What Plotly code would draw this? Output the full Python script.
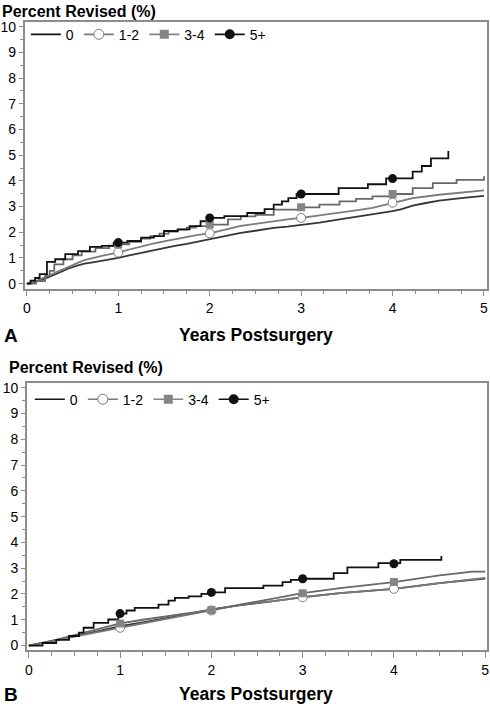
import plotly.graph_objects as go

# ---------------- Data (Panel A) ----------------
years_ticks = [0, 1, 2, 3, 4, 5]
pct_ticks = list(range(0, 11))
marker_years = [1, 2, 3, 4]
groups = ["0", "1-2", "3-4", "5+"]

a0_x = [0, 0.12, 0.24, 0.35, 0.45, 0.55, 0.63, 0.72, 0.82, 0.91, 1.0, 1.12, 1.25, 1.37, 1.5, 1.62, 1.75,
        1.87, 2.0, 2.17, 2.34, 2.5, 2.7, 2.85, 3.0, 3.2, 3.42, 3.6, 3.78, 4.0, 4.1, 4.22, 4.35, 4.51, 4.75, 5.0]
a0_y = [0, 0.1, 0.25, 0.42, 0.58, 0.7, 0.78, 0.83, 0.88, 0.95, 1.0, 1.1, 1.2, 1.3, 1.4, 1.47, 1.55,
        1.64, 1.74, 1.86, 1.98, 2.06, 2.17, 2.22, 2.28, 2.38, 2.5, 2.6, 2.69, 2.82, 2.9, 3.04, 3.13, 3.23, 3.33, 3.42]

a12_x = [0, 0.12, 0.24, 0.35, 0.45, 0.55, 0.63, 0.72, 0.82, 0.91, 1.0, 1.12, 1.25, 1.37, 1.5, 1.62, 1.75,
         1.87, 2.0, 2.17, 2.34, 2.5, 2.7, 2.85, 3.0, 3.2, 3.42, 3.6, 3.78, 4.0, 4.22, 4.51, 4.75, 5.0]
a12_y = [0, 0.13, 0.32, 0.5, 0.66, 0.8, 0.92, 1.01, 1.08, 1.15, 1.21, 1.33, 1.45, 1.55, 1.65, 1.74, 1.83,
         1.9, 1.96, 2.1, 2.25, 2.33, 2.44, 2.5, 2.56, 2.65, 2.75, 2.85, 2.95, 3.15, 3.33, 3.46, 3.55, 3.63]

a34_x = [0, 0.1, 0.2, 0.25, 0.3, 0.4, 0.5, 0.6, 0.75, 0.9, 1.0, 1.12, 1.25, 1.35, 1.45, 1.55, 1.65, 1.75,
         1.85, 2.0, 2.2, 2.34, 2.5, 2.7, 3.0, 3.2, 3.42, 3.6, 3.78, 4.0, 4.22, 4.44, 4.7, 5.0]
a34_y = [0, 0.1, 0.3, 0.5, 0.75, 0.95, 1.1, 1.25, 1.38, 1.48, 1.53, 1.63, 1.75, 1.85, 1.95, 2.03, 2.1, 2.18,
         2.24, 2.3, 2.5, 2.62, 2.68, 2.88, 2.97, 3.08, 3.2, 3.3, 3.4, 3.49, 3.72, 3.91, 4.04, 4.18]

a5_x = [0, 0.04, 0.09, 0.14, 0.22, 0.31, 0.42, 0.56, 0.69, 0.82, 0.95, 1.1, 1.25, 1.39, 1.5, 1.65, 1.78,
        1.9, 2.0, 2.16, 2.41, 2.6, 2.7, 2.79, 2.86, 2.95, 3.41, 3.73, 3.93, 4.22, 4.32, 4.42, 4.61]
a5_y = [0, 0.12, 0.22, 0.37, 0.85, 0.95, 1.15, 1.27, 1.43, 1.47, 1.6, 1.66, 1.79, 1.85, 2.05, 2.11, 2.24,
        2.43, 2.56, 2.63, 2.75, 2.9, 3.08, 3.2, 3.33, 3.49, 3.72, 3.87, 4.1, 4.36, 4.58, 4.88, 5.16]

a12_mk = [1.21, 1.96, 2.56, 3.15]
a34_mk = [1.53, 2.3, 2.97, 3.49]
a5_mk = [1.6, 2.56, 3.49, 4.09]

# ---------------- Data (Panel B) ----------------
b0_x = [0, 0.25, 0.5, 0.75, 1.0, 1.25, 1.5, 1.75, 2.0, 2.32, 2.68, 3.0, 3.41, 3.7, 4.0, 4.5, 5.0]
b0_y = [0, 0.17, 0.36, 0.55, 0.75, 0.9, 1.05, 1.22, 1.4, 1.57, 1.72, 1.88, 2.03, 2.12, 2.2, 2.42, 2.6]

b12_x = [0, 0.25, 0.5, 0.75, 1.0, 1.25, 1.5, 1.75, 2.0, 2.32, 2.68, 3.0, 3.41, 3.7, 4.0, 4.5, 5.0]
b12_y = [0, 0.16, 0.35, 0.52, 0.69, 0.88, 1.05, 1.2, 1.36, 1.59, 1.72, 1.87, 2.03, 2.12, 2.2, 2.42, 2.62]

b34_x = [0, 0.25, 0.5, 0.75, 1.0, 1.25, 1.5, 1.75, 2.0, 2.32, 2.68, 3.0, 3.41, 3.7, 4.0, 4.5, 4.86, 5.0]
b34_y = [0, 0.18, 0.4, 0.62, 0.86, 1.0, 1.13, 1.25, 1.38, 1.59, 1.82, 2.03, 2.23, 2.33, 2.46, 2.72, 2.87, 2.87]

b5_x = [0, 0.15, 0.3, 0.44, 0.55, 0.6, 0.71, 0.87, 0.98, 1.0, 1.07, 1.16, 1.42, 1.53, 1.6, 1.75, 1.89, 2.0,
        2.15, 2.57, 2.78, 2.87, 3.0, 3.34, 3.49, 3.83, 4.07, 4.52]
b5_y = [0, 0.1, 0.22, 0.37, 0.5, 0.69, 0.88, 1.01, 1.14, 1.24, 1.36, 1.46, 1.59, 1.74, 1.85, 1.91, 2.0, 2.06,
        2.23, 2.32, 2.46, 2.55, 2.59, 2.81, 3.03, 3.2, 3.32, 3.47]

b12_mk = [0.69, 1.36, 1.87, 2.2]
b34_mk = [0.86, 1.38, 2.03, 2.46]
b5_mk = [1.24, 2.06, 2.59, 3.17]

# ---------------- Styles ----------------
FONT = "Liberation Sans, Arial, sans-serif"
C0 = "#363636"
C12 = "#7a7a7a"
C34 = "#686868"
C34M = "#858585"
C5 = "#111111"
AXC = "#8c8c8c"
W = 490
H = 706

fig = go.Figure()


def add_panel(xa, ya, leg, d0, d12, d34, d5, mk12, mk34, mk5, shapes):
    lw = 1.8
    fig.add_trace(go.Scatter(x=d0[0], y=d0[1], mode="lines", line=dict(color=C0, width=lw, shape=shapes[0]),
                             xaxis=xa, yaxis=ya, showlegend=False, hoverinfo="skip"))
    fig.add_trace(go.Scatter(x=d12[0], y=d12[1], mode="lines", line=dict(color=C12, width=lw, shape=shapes[1]),
                             xaxis=xa, yaxis=ya, showlegend=False, hoverinfo="skip"))
    fig.add_trace(go.Scatter(x=d34[0], y=d34[1], mode="lines", line=dict(color=C34, width=lw, shape=shapes[2]),
                             xaxis=xa, yaxis=ya, showlegend=False, hoverinfo="skip"))
    fig.add_trace(go.Scatter(x=d5[0], y=d5[1], mode="lines", line=dict(color=C5, width=lw, shape=shapes[3]),
                             xaxis=xa, yaxis=ya, showlegend=False, hoverinfo="skip"))
    # markers at yearly intervals
    fig.add_trace(go.Scatter(x=marker_years, y=mk12, mode="markers",
                             marker=dict(symbol="circle", size=9, color="white", line=dict(color=C12, width=1)),
                             xaxis=xa, yaxis=ya, showlegend=False))
    fig.add_trace(go.Scatter(x=marker_years, y=mk34, mode="markers",
                             marker=dict(symbol="square", size=8, color=C34M, line=dict(width=0)),
                             xaxis=xa, yaxis=ya, showlegend=False))
    fig.add_trace(go.Scatter(x=marker_years, y=mk5, mode="markers",
                             marker=dict(symbol="circle", size=9, color=C5, line=dict(width=0)),
                             xaxis=xa, yaxis=ya, showlegend=False))
    # legend entries
    fig.add_trace(go.Scatter(x=[None], y=[None], mode="lines", name=groups[0],
                             line=dict(color=C5, width=1.6), xaxis=xa, yaxis=ya, legend=leg))
    fig.add_trace(go.Scatter(x=[None], y=[None], mode="lines+markers", name=groups[1],
                             line=dict(color=C12, width=1.6),
                             marker=dict(symbol="circle", size=10, color="white", line=dict(color=C12, width=1)),
                             xaxis=xa, yaxis=ya, legend=leg))
    fig.add_trace(go.Scatter(x=[None], y=[None], mode="lines+markers", name=groups[2],
                             line=dict(color=C34M, width=1.6),
                             marker=dict(symbol="square", size=9, color=C34M),
                             xaxis=xa, yaxis=ya, legend=leg))
    fig.add_trace(go.Scatter(x=[None], y=[None], mode="lines+markers", name=groups[3],
                             line=dict(color=C5, width=1.6),
                             marker=dict(symbol="circle", size=10, color=C5),
                             xaxis=xa, yaxis=ya, legend=leg))


add_panel("x", "y", "legend", (a0_x, a0_y), (a12_x, a12_y), (a34_x, a34_y), (a5_x, a5_y),
          a12_mk, a34_mk, a5_mk, ["linear", "linear", "hv", "hv"])
add_panel("x2", "y2", "legend2", (b0_x, b0_y), (b12_x, b12_y), (b34_x, b34_y), (b5_x, b5_y),
          b12_mk, b34_mk, b5_mk, ["linear", "linear", "linear", "hv"])

xcommon = dict(tickvals=years_ticks, ticks="outside", ticklen=6, tickwidth=1, tickcolor=AXC,
               minor=dict(dtick=0.25, ticklen=4, tickcolor=AXC, ticks="outside"),
               showline=True, linecolor=AXC, linewidth=1.5, mirror=True,
               showgrid=False, zeroline=False, tickfont=dict(family=FONT, size=14, color="black"))
ycommon = dict(tickvals=pct_ticks, ticks="outside", ticklen=4, tickwidth=1, tickcolor=AXC,
               minor=dict(dtick=0.5, ticklen=3, tickcolor=AXC, ticks="outside"),
               showline=True, linecolor=AXC, linewidth=1.5, mirror=True,
               showgrid=False, zeroline=False, tickfont=dict(family=FONT, size=14, color="black"))

legcommon = dict(orientation="h", xanchor="left", yanchor="middle", bgcolor="rgba(0,0,0,0)",
                 font=dict(family=FONT, size=14, color="black"), itemwidth=30, tracegroupgap=0)

fig.update_layout(
    width=W, height=H,
    margin=dict(l=0, r=0, t=0, b=0),
    paper_bgcolor="white", plot_bgcolor="white",
    showlegend=True,
    xaxis=dict(domain=[22.7 / W, 488 / W], range=[-0.025, 5.033], anchor="y", **xcommon),
    yaxis=dict(domain=[1 - 288 / H, 1 - 19 / H], range=[-0.19, 10.19], anchor="x", **ycommon),
    xaxis2=dict(domain=[25 / W, 488 / W], range=[-0.022, 5.02], anchor="y2", **xcommon),
    yaxis2=dict(domain=[1 - 653 / H, 1 - 383 / H], range=[-0.19, 10.19], anchor="x2", **ycommon),
    legend=dict(x=24 / W, y=1 - 32 / H, **legcommon),
    legend2=dict(x=28 / W, y=1 - 400 / H, **legcommon),
    annotations=[
        dict(text="<b>Percent Revised (%)</b>", x=-2 / W, y=1 - 9 / H, xref="paper", yref="paper",
             xanchor="left", yanchor="middle", showarrow=False, font=dict(family=FONT, size=16, color="black")),
        dict(text="<b>A</b>", x=0 / W, y=1 - 335 / H, xref="paper", yref="paper",
             xanchor="left", yanchor="middle", showarrow=False, font=dict(family=FONT, size=19, color="black")),
        dict(text="<b>Years Postsurgery</b>", x=256 / W, y=1 - 335 / H, xref="paper", yref="paper",
             xanchor="center", yanchor="middle", showarrow=False, font=dict(family=FONT, size=17.5, color="black")),
        dict(text="<b>Percent Revised (%)</b>", x=5 / W, y=1 - 368 / H, xref="paper", yref="paper",
             xanchor="left", yanchor="middle", showarrow=False, font=dict(family=FONT, size=16, color="black")),
        dict(text="<b>B</b>", x=0 / W, y=1 - 697 / H, xref="paper", yref="paper",
             xanchor="left", yanchor="middle", showarrow=False, font=dict(family=FONT, size=19, color="black")),
        dict(text="<b>Years Postsurgery</b>", x=256 / W, y=1 - 697 / H, xref="paper", yref="paper",
             xanchor="center", yanchor="middle", showarrow=False, font=dict(family=FONT, size=17.5, color="black")),
    ],
)

fig.write_html("out.html", config={"displayModeBar": False},
               post_script="document.body.style.margin='0';")
